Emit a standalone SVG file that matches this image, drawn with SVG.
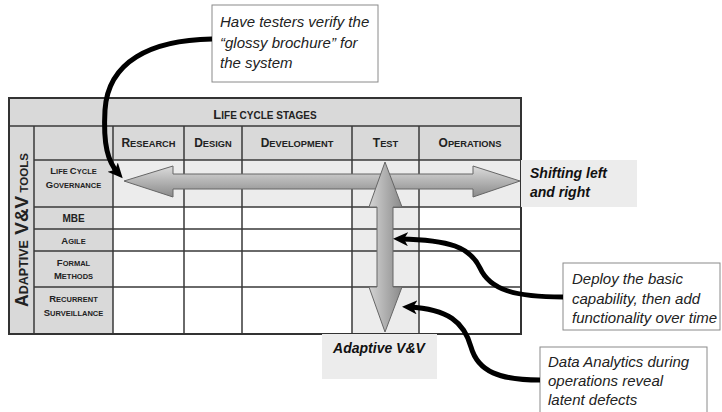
<svg xmlns="http://www.w3.org/2000/svg" width="722" height="412" viewBox="0 0 722 412">
<style>
.hdr{fill:#d9d9d9}
.band{fill:#ececec}
.grid{stroke:#3a3a3a;stroke-width:1.5;fill:none}
.t{font-family:"Liberation Sans",Arial,sans-serif;font-weight:bold;fill:#222;text-anchor:middle}
.note{font-family:"Liberation Sans",Arial,sans-serif;font-style:italic;font-size:15px;fill:#222}
.lbl{font-family:"Liberation Sans",Arial,sans-serif;font-style:italic;font-weight:bold;font-size:14px;fill:#111}
.box{fill:#fff;stroke:#8a8a8a;stroke-width:1}
.con{fill:none;stroke:#000;stroke-width:5;marker-end:url(#ah)}
.big{font-size:12px}
.sm{font-size:9.3px}
.rb{font-size:9.5px}
.rs{font-size:7.5px}
</style>
<defs>
<marker id="ah" markerUnits="userSpaceOnUse" markerWidth="18" markerHeight="16" refX="8" refY="7" orient="auto">
<path d="M0,0 L15,7 L0,14 L4,7 z" fill="#000"/>
</marker>
<linearGradient id="gh" x1="0" y1="0" x2="0" y2="1">
<stop offset="0" stop-color="#dcdcdc"/>
<stop offset="1" stop-color="#8a8a8a"/>
</linearGradient>
<linearGradient id="gv" x1="0" y1="0" x2="1" y2="0">
<stop offset="0" stop-color="#d4d4d4"/>
<stop offset="1" stop-color="#8a8a8a"/>
</linearGradient>
</defs>

<g id="table">
<rect class="hdr" x="9" y="98" width="512" height="28"/>
<rect class="hdr" x="9" y="126" width="104" height="208"/>
<rect class="hdr" x="113" y="126" width="408" height="34"/>
<rect class="band" x="113" y="160" width="408" height="47"/>
<rect class="band" x="352" y="207" width="67" height="127"/>
<path class="grid" d="M9,126H521 M34,160H521 M34,207H521 M34,229H521 M34,251H521 M34,287H521 M34,126V334 M113,126V334 M184,126V334 M242,126V334 M352,126V334 M419,126V334"/>
<rect x="9" y="98" width="512" height="236" fill="none" stroke="#333" stroke-width="2"/>
<text class="t" x="265" y="119" font-size="13"><tspan>L</tspan><tspan font-size="10">IFE CYCLE STAGES</tspan></text>
<text class="t" x="148.5" y="147"><tspan class="big">R</tspan><tspan class="sm">ESEARCH</tspan></text>
<text class="t" x="213" y="147"><tspan class="big">D</tspan><tspan class="sm">ESIGN</tspan></text>
<text class="t" x="297" y="147"><tspan class="big">D</tspan><tspan class="sm">EVELOPMENT</tspan></text>
<text class="t" x="385.5" y="147"><tspan class="big">T</tspan><tspan class="sm">EST</tspan></text>
<text class="t" x="470" y="147"><tspan class="big">O</tspan><tspan class="sm">PERATIONS</tspan></text>
<text class="t" x="73.5" y="174"><tspan class="rb">L</tspan><tspan class="rs">IFE </tspan><tspan class="rb">C</tspan><tspan class="rs">YCLE</tspan></text>
<text class="t" x="73.5" y="188"><tspan class="rb">G</tspan><tspan class="rs">OVERNANCE</tspan></text>
<text class="t" x="73.5" y="222" font-size="10">MBE</text>
<text class="t" x="73.5" y="244"><tspan class="rb">A</tspan><tspan class="rs">GILE</tspan></text>
<text class="t" x="73.5" y="265.5"><tspan class="rb">F</tspan><tspan class="rs">ORMAL</tspan></text>
<text class="t" x="73.5" y="279"><tspan class="rb">M</tspan><tspan class="rs">ETHODS</tspan></text>
<text class="t" x="73.5" y="301.5"><tspan class="rb">R</tspan><tspan class="rs">ECURRENT</tspan></text>
<text class="t" x="73.5" y="315.5"><tspan class="rb">S</tspan><tspan class="rs">URVEILLANCE</tspan></text>
<text class="t" transform="translate(28,230) rotate(-90)"><tspan font-size="17.5">A</tspan><tspan font-size="12.5">DAPTIVE</tspan><tspan font-size="19"> V&amp;V</tspan><tspan font-size="11.5"> TOOLS</tspan></text>
</g>

<g id="shifting">
<rect class="band" x="521" y="160" width="116" height="47"/>
<text class="lbl" x="530" y="178">Shifting left</text>
<text class="lbl" x="530" y="197">and right</text>
</g>

<g id="adaptive">
<rect class="band" x="322" y="334" width="115" height="45"/>
<text class="lbl" x="379" y="353" text-anchor="middle">Adaptive V&amp;V</text>
</g>

<g id="harrow">
<polygon points="124,181 173,166 173,174 473,174 473,166 520,181 473,197 473,189 173,189 173,197" fill="url(#gh)" stroke="#666" stroke-width="1"/>
</g>
<g id="varrow">
<polygon points="385,162 402,207 393,207 393,287 402,287 385,332 369,287 377,287 377,207 369,207" fill="url(#gv)" stroke="#666" stroke-width="1"/>
</g>

<g id="note1">
<rect class="box" x="212" y="5" width="166" height="77"/>
<text class="note" x="220" y="27">Have testers verify the</text>
<text class="note" x="220" y="48">“glossy brochure” for</text>
<text class="note" x="220" y="68">the system</text>
</g>
<g id="note2">
<rect class="box" x="563" y="263" width="157" height="67"/>
<text class="note" x="572" y="284">Deploy the basic</text>
<text class="note" x="572" y="304">capability, then add</text>
<text class="note" x="572" y="323">functionality over time</text>
</g>
<g id="note3">
<rect class="box" x="540" y="347" width="167" height="75"/>
<text class="note" x="548" y="367">Data Analytics during</text>
<text class="note" x="548" y="386">operations reveal</text>
<text class="note" x="548" y="405">latent defects</text>
</g>

<g id="connectors">
<path class="con" d="M212,39 C150,40 108,62 105,110 C103,145 108,162 118,173"/>
<path class="con" d="M563,297 C515,297 490,290 480,268 C470,247 450,240 400,239"/>
<path class="con" d="M540,380 C500,380 478,372 471,347 C464,322 448,309 409,307"/>
</g>
</svg>
